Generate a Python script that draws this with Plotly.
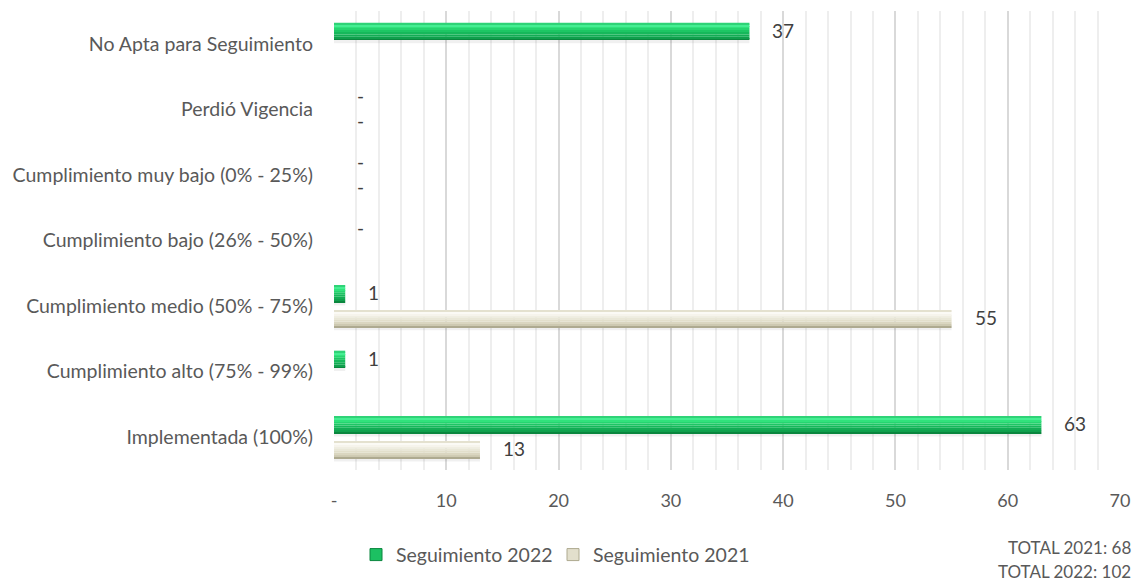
import plotly.graph_objects as go

# Categories, bottom to top on the chart
categories = [
    "Implementada (100%)",
    "Cumplimiento alto (75% - 99%)",
    "Cumplimiento medio (50% - 75%)",
    "Cumplimiento bajo (26% - 50%)",
    "Cumplimiento muy bajo (0% - 25%)",
    "Perdió Vigencia",
    "No Apta para Seguimiento",
]
seg_2022 = [63, 1, 1, 0, 0, 0, 37]
seg_2021 = [13, None, 55, None, 0, 0, None]

tick_vals = [0, 10, 20, 30, 40, 50, 60, 70]
tick_text = ["-", "10", "20", "30", "40", "50", "60", "70"]

total_2021 = 68
total_2022 = 102

FONT = "Lato, Calibri, Carlito, sans-serif"
TEXT = "#595959"

# bar geometry in category units (offset from the category centre)
BAR_W = 0.26
OFF_2022 = 0.06
OFF_2021 = -0.32
PX_PER_CAT = 65.6

# horizontal shading bands: (start, end) as fractions of bar height, colour
GREEN_BANDS = [
    (0.00, 0.08, "#0a863e"),
    (0.08, 0.18, "#0f9f4c"),
    (0.18, 0.32, "#12ac54"),
    (0.32, 0.46, "#16b85b"),
    (0.46, 0.58, "#1dc664"),
    (0.58, 0.70, "#26d570"),
    (0.70, 0.80, "#31e27c"),
    (0.80, 0.90, "#45ee92"),
    (0.90, 1.00, "#2fd377"),
]
BEIGE_BANDS = [
    (0.00, 0.08, "#aeaa90"),
    (0.08, 0.18, "#cdc9b1"),
    (0.18, 0.32, "#dad6c0"),
    (0.32, 0.46, "#e2dfcb"),
    (0.46, 0.58, "#e9e7d7"),
    (0.58, 0.70, "#f0eee2"),
    (0.70, 0.80, "#f6f4ec"),
    (0.80, 0.90, "#fbfaf5"),
    (0.90, 1.00, "#e4e1cf"),
]

fig = go.Figure()


def add_shaded_bar(values, name, offset, bands, legend_color):
    # soft drop shadow just under the bar
    fig.add_trace(go.Bar(
        y=categories, x=values, orientation="h", name=name,
        offset=offset - 0.05, width=0.06,
        marker=dict(color="rgba(0,0,0,0.06)", line=dict(width=0)),
        showlegend=False, legendgroup=name, hoverinfo="skip",
    ))
    for i, (a, b, col) in enumerate(bands):
        fig.add_trace(go.Bar(
            y=categories, x=values, orientation="h", name=name,
            offset=offset + a * BAR_W, width=(b - a) * BAR_W,
            marker=dict(color=col, line=dict(width=0)),
            showlegend=False, legendgroup=name,
            hoverinfo="x+name" if i == 0 else "skip",
        ))
    # legend-only entry
    fig.add_trace(go.Bar(
        y=[categories[0]], x=[None], orientation="h", name=name,
        marker=dict(color=legend_color, line=dict(width=1, color=bands[0][2])),
        showlegend=True, legendgroup=name, hoverinfo="skip",
    ))


add_shaded_bar(seg_2022, "Seguimiento 2022", OFF_2022, GREEN_BANDS, "#1cc062")
add_shaded_bar(seg_2021, "Seguimiento 2021", OFF_2021, BEIGE_BANDS, "#e2dfcc")

# value labels ("-" for zero), placed just past the bar ends
for series, offset in ((seg_2022, OFF_2022), (seg_2021, OFF_2021)):
    for cat, v in zip(categories, series):
        if v is None:
            continue
        fig.add_annotation(
            x=v, y=cat, xref="x", yref="y",
            text="-" if v == 0 else str(v),
            showarrow=False, xanchor="left", yanchor="middle",
            xshift=21, yshift=(offset + BAR_W / 2) * PX_PER_CAT + 1,
            font=dict(family=FONT, size=19, color="#404040"),
        )

fig.add_annotation(
    x=1.0165, y=-0.168, xref="paper", yref="paper",
    text=f"TOTAL 2021: {total_2021}", showarrow=False,
    xanchor="right", yanchor="middle",
    font=dict(family=FONT, size=17, color=TEXT),
)
fig.add_annotation(
    x=1.0165, y=-0.222, xref="paper", yref="paper",
    text=f"TOTAL 2022: {total_2022}", showarrow=False,
    xanchor="right", yanchor="middle",
    font=dict(family=FONT, size=17, color=TEXT),
)

fig.update_layout(
    width=1141, height=586,
    margin=dict(l=334, r=19, t=11, b=116),
    barmode="overlay",
    plot_bgcolor="white", paper_bgcolor="white",
    font=dict(family=FONT, size=18, color=TEXT),
    xaxis=dict(
        range=[0, 70], tickvals=tick_vals, ticktext=tick_text,
        showgrid=True, gridcolor="#d9d9d9", gridwidth=2,
        minor=dict(dtick=2, showgrid=True, gridcolor="#eeeeee", gridwidth=2),
        zeroline=False, showline=False, ticks="",
        tickfont=dict(family=FONT, size=18, color=TEXT),
        ticklabelstandoff=18,
    ),
    yaxis=dict(
        categoryorder="array", categoryarray=categories,
        showgrid=False, zeroline=False, showline=False, ticks="",
        tickfont=dict(family=FONT, size=19.5, color=TEXT),
        ticklabelstandoff=20,
    ),
    legend=dict(
        orientation="h", x=0.028, y=-0.185, xanchor="left", yanchor="middle",
        traceorder="normal",
        font=dict(family=FONT, size=19.5, color=TEXT),
        itemwidth=30, entrywidth=152,
    ),
    showlegend=True,
)

fig.write_html("out.html")
